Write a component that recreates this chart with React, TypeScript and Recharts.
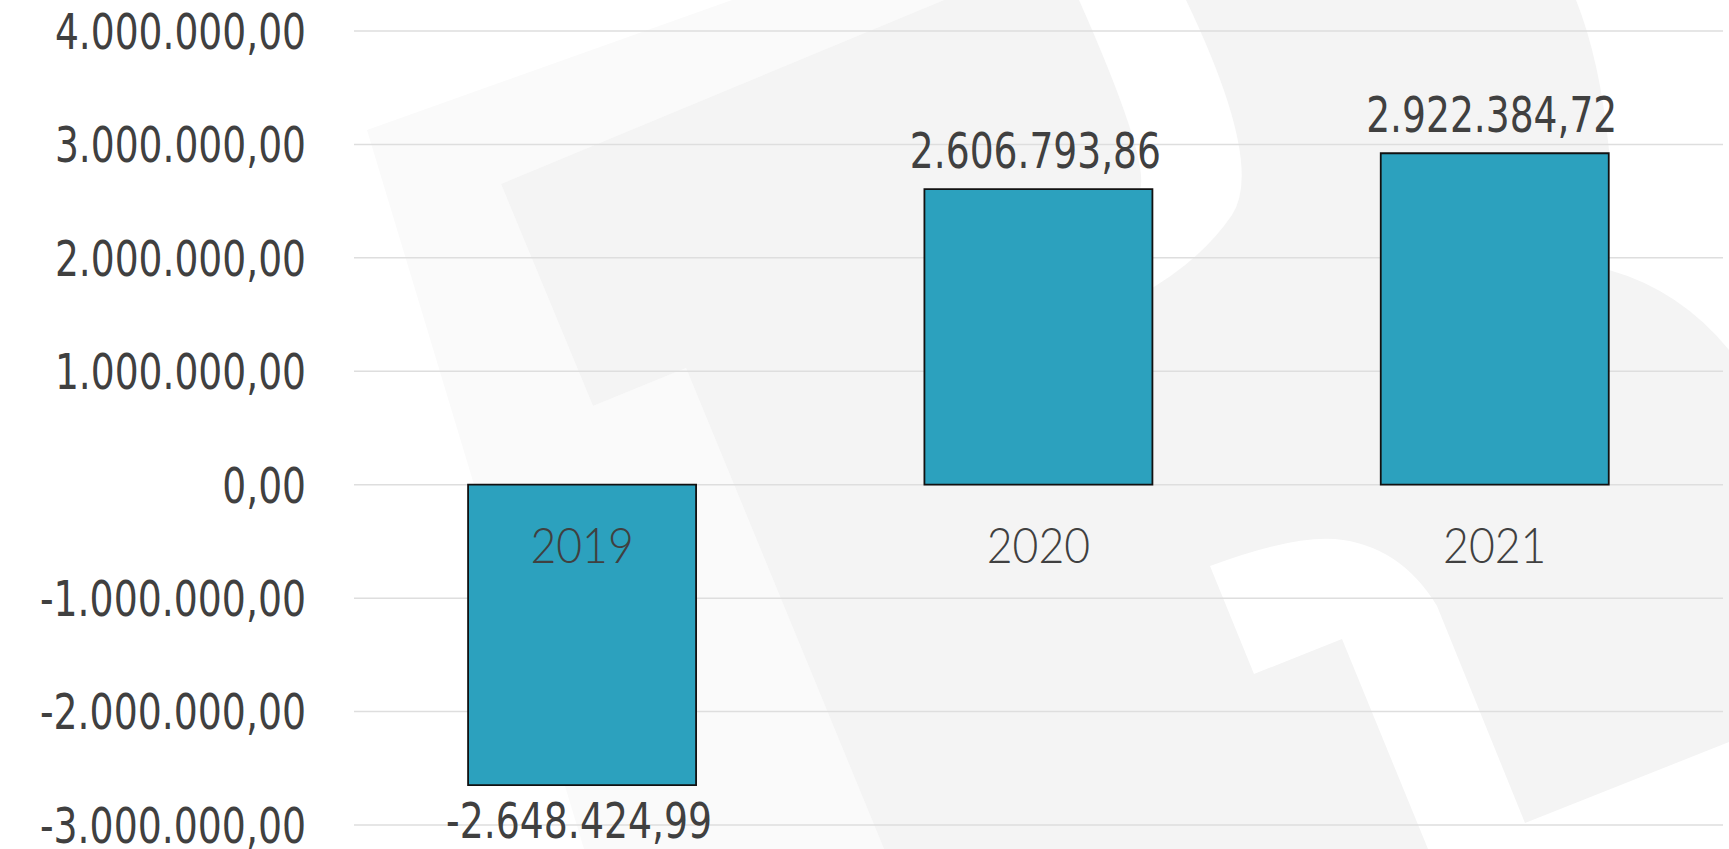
import { BarChart, Bar, XAxis, YAxis, CartesianGrid, LabelList } from 'recharts';

const years = ['2019', '2020', '2021'];
const results = [-2648424.99, 2606793.86, 2922384.72];
const yTicks = [-3000000, -2000000, -1000000, 0, 1000000, 2000000, 3000000, 4000000];

const data = years.map((year, i) => ({ year, value: results[i] }));

const TEXT = '#404040';
const NUM_FONT = 'DejaVu Sans';
const CAT_FONT = 'Lato, "Open Sans", sans-serif';

// pt-BR style: 1.234.567,89
const fmt = (v: number) => {
  const neg = v < 0;
  const [int, dec] = Math.abs(v).toFixed(2).split('.');
  const grouped = int.replace(/\B(?=(\d{3})+(?!\d))/g, '.');
  return (neg ? '-' : '') + grouped + ',' + dec;
};

// the numbers in the original are a squeezed font, so fit each one to its width
const charW = (c: string) => (c >= '0' && c <= '9' ? 23.9 : c === '-' ? 15 : 12);
const textW = (s: string) => s.split('').reduce((a, c) => a + charW(c), 0);

function NumText({ x, y, anchor, children }: { x: number; y: number; anchor: string; children: string }) {
  const w = textW(children);
  const left = anchor === 'end' ? x - w : anchor === 'middle' ? x - w / 2 : x;
  return (
    <text
      x={left}
      y={y}
      textLength={w}
      lengthAdjust="spacingAndGlyphs"
      fill={TEXT}
      fontFamily={NUM_FONT}
      fontSize={49}
    >
      {children}
    </text>
  );
}

function YTick(props: any) {
  const { x, y, payload } = props;
  return <NumText x={x} y={y + 17.8} anchor="end">{fmt(payload.value)}</NumText>;
}

function ValueLabel(props: any) {
  const { x, y, width, height, value } = props;
  const top = Math.min(y, y + height);
  const bottom = Math.max(y, y + height);
  const cx = x + width / 2 - 3;
  if (value >= 0) return <NumText x={cx} y={top - 21} anchor="middle">{fmt(value)}</NumText>;
  return <NumText x={cx} y={bottom + 53} anchor="middle">{fmt(value)}</NumText>;
}

function CategoryLabel(props: any) {
  const { x, y, width, height, index } = props;
  const v = results[index];
  const zero = v >= 0 ? Math.max(y, y + height) : Math.min(y, y + height);
  const cx = x + width / 2;
  return (
    <g transform={`translate(${cx},${zero + 78}) scale(0.92,1)`}>
      <text x={0} y={0} textAnchor="middle" fill={TEXT} fontFamily={CAT_FONT} fontWeight={300} fontSize={48.4}>
        {years[index]}
      </text>
    </g>
  );
}

// faint logo watermark behind the plot
function Watermark() {
  return (
    <svg width={1729} height={849} style={{ position: 'absolute', left: 0, top: 0 }}>
      <rect width={1729} height={849} fill="#ffffff" />
      <polygon points="367,130 732,0 944,0 501,184 593,406 686,368 884,849 584,849" fill="#fafafa" />
      <polygon points="501,184 944,0 1729,0 1729,849 884,849 686,368 593,406" fill="#f4f4f4" />
      <path d="M1079,0 L1186,0 Q1265,165 1232,215 Q1200,262 1140,295 L1140,190 Q1150,160 1079,0 Z" fill="#ffffff" />
      <path d="M1576,0 L1729,0 L1729,350 Q1680,290 1609,270 L1609,150 Q1600,60 1576,0 Z" fill="#ffffff" />
      <path d="M1210,566 Q1290,536 1335,539 Q1400,545 1437,606 L1525,823 L1729,742 L1729,849 L1428,849 L1342,639 L1254,674 Z" fill="#ffffff" />
    </svg>
  );
}

export default function App() {
  return (
    <div style={{ position: 'absolute', left: 0, top: 0, width: 1729, height: 849, overflow: 'hidden' }}>
      <Watermark />
      <div style={{ position: 'absolute', left: 0, top: 0 }}>
        <BarChart
          width={1729}
          height={849}
          data={data}
          margin={{ top: 31, right: 6, bottom: 24, left: 0 }}
          barCategoryGap="25%"
        >
          <CartesianGrid vertical={false} stroke="#dedede" strokeWidth={1.5} />
          <XAxis dataKey="year" hide />
          <YAxis
            width={354}
            domain={[-3000000, 4000000]}
            ticks={yTicks}
            interval={0}
            axisLine={false}
            tickLine={false}
            tickSize={0}
            tickMargin={48}
            tick={YTick}
          />
          <Bar dataKey="value" fill="#2ca1be" stroke="#111111" strokeWidth={1.8} isAnimationActive={false}>
            <LabelList dataKey="value" content={ValueLabel} />
            <LabelList dataKey="year" content={CategoryLabel} />
          </Bar>
        </BarChart>
      </div>
    </div>
  );
}
